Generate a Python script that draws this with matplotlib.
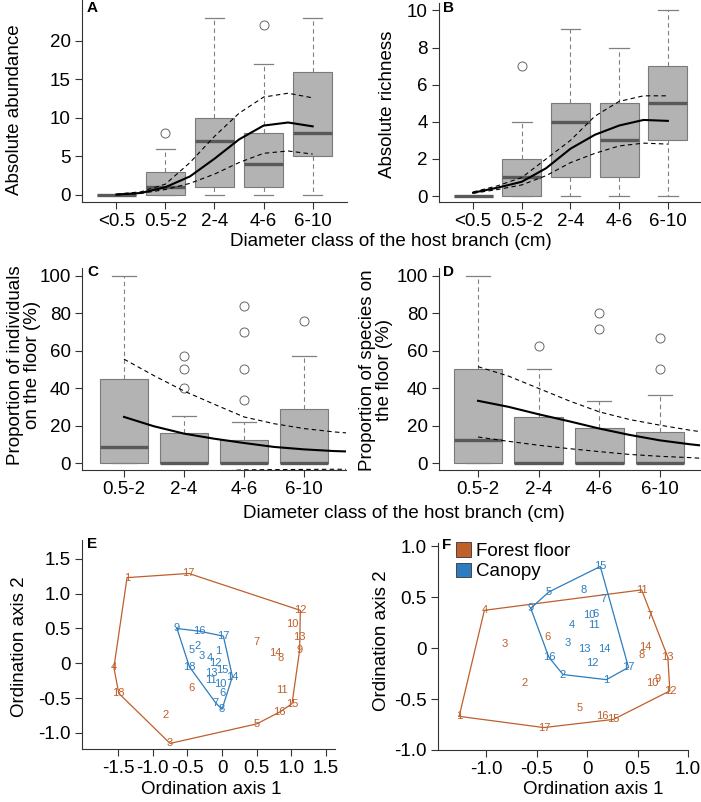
import numpy as np
import matplotlib
matplotlib.use("Agg")
import matplotlib.pyplot as plt
from matplotlib.patches import Patch

plt.rcParams['font.family'] = ['Liberation Sans', 'DejaVu Sans']
plt.rcParams['axes.unicode_minus'] = False

# ---- data -------------------------------------------------------------
classes_ab = ['<0.5', '0.5-2', '2-4', '4-6', '6-10']
classes_cd = ['0.5-2', '2-4', '4-6', '6-10']

# A: absolute abundance
abund_lo = [0, 0, 0, 0, 0]
abund_q1 = [0, 0, 1, 1, 5]
abund_med = [0, 1, 7, 4, 8]
abund_q3 = [0, 3, 10, 8, 16]
abund_hi = [0, 6, 23, 17, 23]
abund_out = [[], [8], [], [22], []]

fit_x_ab = [1, 1.5, 2, 2.5, 3, 3.5, 4, 4.5, 5]
abund_fit = [0.05, 0.25, 1.0, 2.4, 4.7, 7.2, 9.0, 9.4, 8.9]
abund_upr = [0.1, 0.4, 1.4, 4.2, 7.6, 10.6, 12.7, 13.2, 12.6]
abund_lwr = [0.0, 0.2, 0.7, 1.5, 2.7, 4.2, 5.4, 5.7, 5.3]

# B: absolute richness
rich_lo = [0, 0, 0, 0, 0]
rich_q1 = [0, 0, 1, 1, 3]
rich_med = [0, 1, 4, 3, 5]
rich_q3 = [0, 2, 5, 5, 7]
rich_hi = [0, 4, 9, 8, 10]
rich_out = [[], [7], [], [], []]

rich_fit = [0.18, 0.45, 0.77, 1.5, 2.55, 3.3, 3.8, 4.1, 4.05]
rich_upr = [0.22, 0.55, 1.0, 2.0, 3.0, 4.3, 5.1, 5.4, 5.4]
rich_lwr = [0.15, 0.35, 0.6, 1.1, 1.8, 2.3, 2.7, 2.85, 2.8]

# C: proportion of individuals on the floor
ind_lo = [0, 0, 0, 0]
ind_q1 = [0, 0, 0, 0]
ind_med = [8.5, 0, 0, 0]
ind_q3 = [45, 16, 12.5, 29]
ind_hi = [100, 25, 22, 57]
ind_out = [[], [40, 50, 57], [33.5, 50, 70, 84], [76]]

fit_x_cd = [1, 1.5, 2, 2.5, 3, 3.5, 4, 4.5, 4.7]
ind_fit = [24.6, 19.6, 15.7, 13.0, 10.7, 8.6, 7.3, 6.4, 6.2]
ind_upr = [55.4, 46.6, 38.4, 31.4, 24.6, 21.0, 18.4, 16.6, 16.1]
ind_lwr = [-30, -20, -12, -4.5, -3.6, -3.5, -3.4, -3.3, -3.3]

# D: proportion of species on the floor
sp_lo = [0, 0, 0, 0]
sp_q1 = [0, 0, 0, 0]
sp_med = [12.5, 0, 0, 0]
sp_q3 = [50, 24.5, 18.5, 16.7]
sp_hi = [100, 50, 33.3, 36.4]
sp_out = [[], [62.5], [71.4, 80], [50, 66.7]]

sp_fit = [33.2, 30.0, 26.0, 22.3, 18.4, 15.0, 12.1, 10.0, 9.3]
sp_upr = [51.4, 46.4, 39.8, 33.2, 27.3, 23.2, 20.2, 17.5, 16.6]
sp_lwr = [13.9, 11.6, 9.5, 7.7, 6.1, 4.6, 3.6, 2.9, 2.5]

# E: ordination (sites 1-18)
e_floor_x = [-1.37, -0.82, -0.75, -1.56, 0.50, -0.44, 0.50, 0.84, 1.12,
             1.02, 0.86, 1.13, 1.12, 0.77, 1.01, 0.83, -0.48, -1.49]
e_floor_y = [1.23, -0.74, -1.15, -0.06, -0.87, -0.35, 0.30, 0.07, 0.19,
             0.57, -0.39, 0.76, 0.38, 0.15, -0.58, -0.70, 1.29, -0.43]
e_can_x = [-0.05, -0.36, -0.30, -0.18, -0.44, 0.00, -0.09, 0.00, -0.65,
           -0.02, -0.16, -0.10, -0.15, 0.15, 0.01, -0.32, 0.02, -0.47]
e_can_y = [0.18, 0.25, 0.10, 0.07, 0.19, -0.43, -0.57, -0.66, 0.50,
           -0.30, -0.24, 0.01, -0.14, -0.19, -0.09, 0.46, 0.39, -0.05]

# F: ordination (sites 1-17)
f_floor_x = [-1.27, -0.62, -0.82, -1.02, -0.07, -0.39, 0.62, 0.54, 0.70,
             0.65, 0.54, 0.82, 0.80, 0.58, 0.26, 0.15, -0.43]
f_floor_y = [-0.67, -0.34, 0.04, 0.37, -0.59, 0.11, 0.31, -0.07, -0.30,
             -0.34, 0.57, -0.42, -0.09, 0.01, -0.70, -0.67, -0.78]
f_can_x = [0.19, -0.24, -0.19, -0.15, -0.38, 0.08, 0.16, -0.04, -0.56,
           0.02, 0.07, 0.05, -0.03, 0.17, 0.13, -0.38, 0.41]
f_can_y = [-0.31, -0.26, 0.05, 0.23, 0.55, 0.33, 0.48, 0.57, 0.39,
           0.32, 0.23, -0.15, -0.01, -0.01, 0.80, -0.09, -0.19]

# ---- style ------------------------------------------------------------
BOX_FILL = '#b3b3b3'
BOX_EDGE = '#7a7a7a'
MED_COL = '#595959'
WHISK_COL = '#808080'
AX_COL = '#333333'
FLOOR_COL = '#bf5f2a'
CAN_COL = '#2b7dc0'
TICK_FS = 13.5

W, H = 701, 802
fig = plt.figure(figsize=(W / 100, H / 100), dpi=100)


def px_axes(x0, y0, x1, y1):
    return fig.add_axes([x0 / W, 1 - y1 / H, (x1 - x0) / W, (y1 - y0) / H])


def px_text(x, y, s, **kw):
    fig.text(x / W, 1 - y / H, s, **kw)


def style(ax):
    for s in ['top', 'right']:
        ax.spines[s].set_visible(False)
    for s in ['left', 'bottom']:
        ax.spines[s].set_color(AX_COL)
        ax.spines[s].set_linewidth(0.8)
    ax.tick_params(direction='out', length=5, width=0.8, color=AX_COL,
                   labelsize=TICK_FS, pad=3)


def draw_boxes(ax, lo, q1, med, q3, hi, out):
    stats = [dict(whislo=a, q1=b, med=c, q3=d, whishi=e, fliers=f)
             for a, b, c, d, e, f in zip(lo, q1, med, q3, hi, out)]
    ax.bxp(stats, positions=range(1, len(stats) + 1), widths=0.8,
           capwidths=0.4, patch_artist=True, manage_ticks=False,
           boxprops=dict(facecolor=BOX_FILL, edgecolor=BOX_EDGE, linewidth=0.8),
           medianprops=dict(color=MED_COL, linewidth=2.4, solid_capstyle='butt'),
           whiskerprops=dict(color=WHISK_COL, linestyle=(0, (4, 3)), linewidth=0.8),
           capprops=dict(color=WHISK_COL, linewidth=0.9),
           flierprops=dict(marker='o', markerfacecolor='none',
                           markeredgecolor='#666666', markersize=6.5,
                           markeredgewidth=0.7))


def draw_fit(ax, x, fit, upr, lwr):
    ax.plot(x, fit, color='black', lw=1.5, zorder=5)
    ax.plot(x, upr, color='black', lw=0.8, ls=(0, (4, 3)), zorder=5)
    ax.plot(x, lwr, color='black', lw=0.8, ls=(0, (4, 3)), zorder=5)


def hull(x, y):
    pts = sorted(set(zip(x, y)))

    def cross(o, a, b):
        return (a[0] - o[0]) * (b[1] - o[1]) - (a[1] - o[1]) * (b[0] - o[0])

    lower, upper = [], []
    for p in pts:
        while len(lower) >= 2 and cross(lower[-2], lower[-1], p) <= 0:
            lower.pop()
        lower.append(p)
    for p in reversed(pts):
        while len(upper) >= 2 and cross(upper[-2], upper[-1], p) <= 0:
            upper.pop()
        upper.append(p)
    h = lower[:-1] + upper[:-1]
    h.append(h[0])
    return [p[0] for p in h], [p[1] for p in h]


def draw_ord(ax, x, y, col):
    hx, hy = hull(x, y)
    ax.plot(hx, hy, color=col, lw=0.9)
    for i, (a, b) in enumerate(zip(x, y)):
        ax.text(a, b, str(i + 1), color=col, fontsize=8,
                ha='center', va='center')


# ---- A ----------------------------------------------------------------
axA = px_axes(82, 0, 347, 202)
draw_boxes(axA, abund_lo, abund_q1, abund_med, abund_q3, abund_hi, abund_out)
draw_fit(axA, fit_x_ab, abund_fit, abund_upr, abund_lwr)
axA.set_xlim(0.3, 5.7)
axA.set_ylim(-0.92, 25.3)
axA.set_xticks(range(1, 6), classes_ab)
axA.set_yticks([0, 5, 10, 15, 20])
style(axA)

# ---- B ----------------------------------------------------------------
axB = px_axes(439, 3, 700, 202)
draw_boxes(axB, rich_lo, rich_q1, rich_med, rich_q3, rich_hi, rich_out)
draw_fit(axB, fit_x_ab, rich_fit, rich_upr, rich_lwr)
axB.set_xlim(0.3, 5.66)
axB.set_ylim(-0.32, 10.4)
axB.set_xticks(range(1, 6), classes_ab)
axB.set_yticks([0, 2, 4, 6, 8, 10])
style(axB)

# ---- C ----------------------------------------------------------------
axC = px_axes(82, 268, 346, 470)
draw_boxes(axC, ind_lo, ind_q1, ind_med, ind_q3, ind_hi, ind_out)
draw_fit(axC, fit_x_cd, ind_fit, ind_upr, ind_lwr)
axC.set_xlim(0.3, 4.7)
axC.set_ylim(-3.7, 104)
axC.set_xticks(range(1, 5), classes_cd)
axC.set_yticks([0, 20, 40, 60, 80, 100])
style(axC)

# ---- D ----------------------------------------------------------------
axD = px_axes(439, 268, 700, 470)
draw_boxes(axD, sp_lo, sp_q1, sp_med, sp_q3, sp_hi, sp_out)
draw_fit(axD, fit_x_cd, sp_fit, sp_upr, sp_lwr)
axD.set_xlim(0.357, 4.66)
axD.set_ylim(-3.7, 104)
axD.set_xticks(range(1, 5), classes_cd)
axD.set_yticks([0, 20, 40, 60, 80, 100])
style(axD)

# ---- E ----------------------------------------------------------------
axE = px_axes(82, 540, 335, 749)
draw_ord(axE, e_floor_x, e_floor_y, FLOOR_COL)
draw_ord(axE, e_can_x, e_can_y, CAN_COL)
axE.set_xlim(-2.02, 1.63)
axE.set_ylim(-1.23, 1.77)
axE.set_xticks([-1.5, -1.0, -0.5, 0, 0.5, 1.0, 1.5],
               ['-1.5', '-1.0', '-0.5', '0', '0.5', '1.0', '1.5'])
axE.set_yticks([-1.0, -0.5, 0, 0.5, 1.0, 1.5],
               ['-1.0', '-0.5', '0', '0.5', '1.0', '1.5'])
style(axE)

# ---- F ----------------------------------------------------------------
axF = px_axes(438, 543, 688, 750)
draw_ord(axF, f_floor_x, f_floor_y, FLOOR_COL)
draw_ord(axF, f_can_x, f_can_y, CAN_COL)
axF.set_xlim(-1.48, 1.0)
axF.set_ylim(-1.0, 1.03)
axF.set_xticks([-1.0, -0.5, 0, 0.5, 1.0], ['-1.0', '-0.5', '0', '0.5', '1.0'])
axF.set_yticks([-1.0, -0.5, 0, 0.5, 1.0], ['-1.0', '-0.5', '0', '0.5', '1.0'])
style(axF)
handles = [Patch(facecolor=FLOOR_COL, edgecolor='#333333', lw=0.6, label='Forest floor'),
           Patch(facecolor=CAN_COL, edgecolor='#333333', lw=0.6, label='Canopy')]
axF.legend(handles=handles, loc='upper left', bbox_to_anchor=(0.04, 1.04),
           frameon=False, fontsize=TICK_FS, handlelength=0.8, handleheight=0.8,
           handletextpad=0.3, labelspacing=0.15, borderaxespad=0)

# ---- labels -----------------------------------------------------------
LAB_FS = 13.5
px_text(15, 110, 'Absolute abundance', rotation=90, ha='center', va='center', fontsize=LAB_FS)
px_text(388, 104, 'Absolute richness', rotation=90, ha='center', va='center', fontsize=LAB_FS)
px_text(391, 241, 'Diameter class of the host branch (cm)', ha='center', va='center', fontsize=LAB_FS)
px_text(24, 365, 'Proportion of individuals\non the floor (%)', rotation=90,
        ha='center', va='center', fontsize=LAB_FS, linespacing=1.0)
px_text(376, 370, 'Proportion of species on\nthe floor (%)', rotation=90,
        ha='center', va='center', fontsize=LAB_FS, linespacing=1.0)
px_text(404, 513, 'Diameter class of the host branch (cm)', ha='center', va='center', fontsize=LAB_FS)
px_text(211, 790, 'Ordination axis 1', ha='center', va='center', fontsize=LAB_FS)
px_text(20, 647, 'Ordination axis 2', rotation=90, ha='center', va='center', fontsize=LAB_FS)
px_text(593, 790, 'Ordination axis 1', ha='center', va='center', fontsize=LAB_FS)
px_text(382, 641, 'Ordination axis 2', rotation=90, ha='center', va='center', fontsize=LAB_FS)

for x, y, s in [(87, 8, 'A'), (443, 8, 'B'), (87, 272, 'C'), (443, 272, 'D'),
                (87, 544, 'E'), (442, 545, 'F')]:
    px_text(x, y, s, fontsize=11, fontweight='bold', ha='left', va='center')

fig.savefig('out.png', dpi=100)
